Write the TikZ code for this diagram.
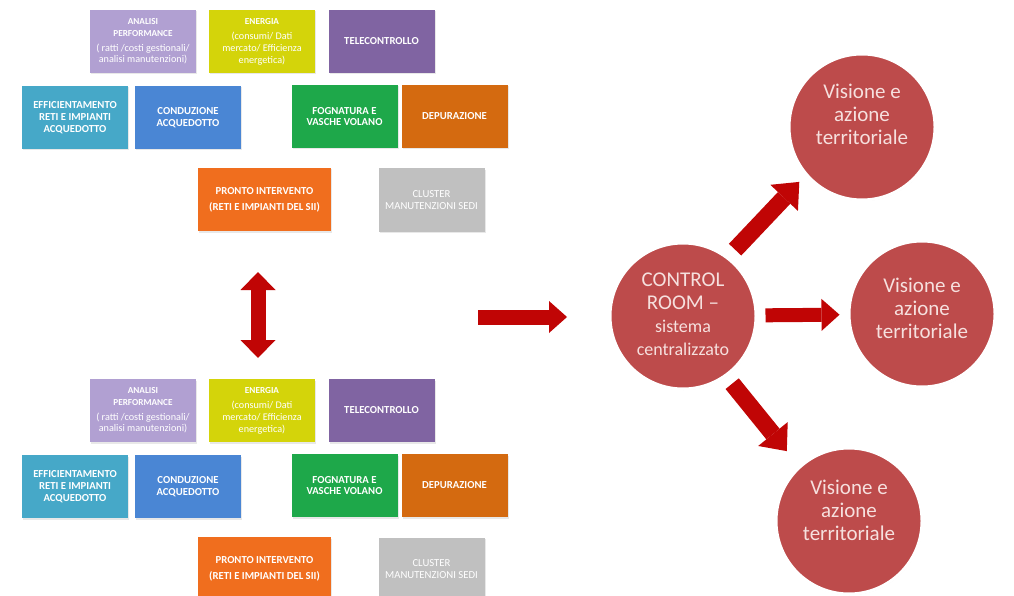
\documentclass[tikz,border=0pt]{standalone}
\usepackage{fontspec}
\setmainfont{Carlito}
\usetikzlibrary{arrows.meta,shadows}
\definecolor{cLav}{HTML}{B1A0D2}
\definecolor{cYel}{HTML}{D4D40A}
\definecolor{cPur}{HTML}{8064A2}
\definecolor{cCya}{HTML}{46A8C8}
\definecolor{cBlu}{HTML}{4A86D4}
\definecolor{cGrn}{HTML}{1EA84A}
\definecolor{cDep}{HTML}{D46A10}
\definecolor{cOra}{HTML}{F06E1E}
\definecolor{cGry}{HTML}{C0C0C0}
\definecolor{cCirc}{HTML}{BD4B4B}
\definecolor{cCtxt}{HTML}{F6E0DE}
\definecolor{cArr}{HTML}{C00505}
\newcommand\boxgroup{%
  \node[tbox, fill=cLav] (ana) at (143,41.5) {\smallbold ANALISI\\\smallbold PERFORMANCE\\[3pt]\smallreg ( ratti /costi gestionali/\\\smallreg analisi manutenzioni)};
  \node[tbox, fill=cYel] (ene) at (262,41.5) {\smallbold ENERGIA\\[4pt]\smallreg (consumi/ Dati\\\smallreg mercato/ Efficienza\\\smallreg energetica)};
  \node[tbox, fill=cPur] (tel) at (381.5,41.5) {TELECONTROLLO};
  \node[tbox, fill=cCya] (eff) at (75,117.5) {EFFICIENTAMENTO\\RETI E IMPIANTI\\ACQUEDOTTO};
  \node[tbox, fill=cBlu] (con) at (188,117.5) {CONDUZIONE\\ACQUEDOTTO};
  \node[tbox, fill=cGrn] (fog) at (344.5,116.5) {FOGNATURA E\\VASCHE VOLANO};
  \node[tbox, fill=cDep] (dep) at (454.5,116.5) {DEPURAZIONE};
  \node[tbox, fill=cOra, minimum width=133pt] (pro) at (264.5,199.5) {PRONTO INTERVENTO\\[4pt](RETI E IMPIANTI DEL SII)};
  \node[tbox, fill=cGry] (clu) at (431.5,200) {\mdseries CLUSTER\\\mdseries MANUTENZIONI SEDI};
}
\newcommand\smallbold{\fontsize{9.2}{11}\selectfont\bfseries}
\newcommand\smallreg{\fontsize{10.2}{10.8}\selectfont\mdseries}
\begin{document}
\begin{tikzpicture}[x=1pt,y=-1pt,
  tbox/.style={rectangle, minimum width=106pt, minimum height=63pt, inner sep=2pt,
    align=center, text=white, font=\fontsize{10.7}{11.7}\selectfont\bfseries,
    drop shadow={opacity=0.18, shadow xshift=1pt, shadow yshift=-1.5pt}},
  circ/.style={circle, minimum size=146pt, inner sep=0pt, fill=cCirc, draw=white, line width=3pt,
    drop shadow={opacity=0.25, shadow xshift=0.5pt, shadow yshift=-1pt}},
  ctext/.style={text=cCtxt, align=center, font=\fontsize{21}{23}\selectfont},
  fatarrow/.style={draw=cArr, line width=15pt, -{Triangle[length=18pt,width=32pt,line width=0pt]}},
  diagarrow/.style={draw=cArr, line width=17pt, -{Triangle[length=22pt,width=38pt,line width=0pt]}},
  dblarrow/.style={draw=cArr, line width=15pt, {Triangle[length=18pt,width=35pt,line width=0pt]}-{Triangle[length=18pt,width=35pt,line width=0pt]}}
]
\useasboundingbox (0,0) rectangle (1014,596);
\clip (0,0) rectangle (1014,596);
\fill[white] (0,0) rectangle (1014,596);

% top group
\begin{scope}[name prefix=t-]
  \boxgroup
\end{scope}
% bottom group
\begin{scope}[shift={(0,369)}, name prefix=b-]
  \boxgroup
\end{scope}

% arrows between groups and to control room
\coordinate (d1) at (258,272);
\coordinate (d2) at (258,358);
\draw[dblarrow] (d1) -- (d2);
\coordinate (r1) at (478,317);
\coordinate (r2) at (567,317);
\draw[fatarrow] (r1) -- (r2);

% circles
\node[circ] (cr) at (683,316) {};
\node[ctext] (crt) at (683,314) {CONTROL\\ROOM --\\\fontsize{18}{20}\selectfont sistema\\\fontsize{18}{20}\selectfont centralizzato};
\node[circ] (v1) at (862,127) {};
\node[ctext] (v1t) at (862,114) {Visione e\\azione\\territoriale};
\node[circ] (v2) at (922,314) {};
\node[ctext] (v2t) at (922,308) {Visione e\\azione\\territoriale};
\node[circ] (v3) at (849,521) {};
\node[ctext] (v3t) at (849,510) {Visione e\\azione\\territoriale};

\draw[diagarrow, shorten <=10pt, shorten >=8pt, transform canvas={shift={(-6pt,5pt)}}] (cr) -- (v1);
\draw[fatarrow, line width=14pt, shorten <=8pt, shorten >=8pt] (cr) -- (v2);
\draw[diagarrow, shorten <=10pt, shorten >=18pt, transform canvas={shift={(-4pt,-2pt)}}] (cr) -- (v3);
\end{tikzpicture}
\end{document}
